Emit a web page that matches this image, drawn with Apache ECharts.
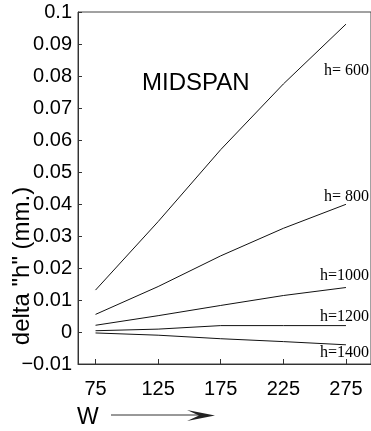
<!DOCTYPE html>
<html>
<head>
<meta charset="utf-8">
<title>MIDSPAN delta h</title>
<script src="https://cdn.jsdelivr.net/npm/echarts@6/dist/echarts.min.js"></script>
<style>
  html, body { margin: 0; padding: 0; background: #fff; }
  #chart { width: 371px; height: 431px; }
</style>
</head>
<body>
<div id="chart"></div>
<script>
// W values (x) and delta "h" (mm.) for each h
const widths = [75, 125, 175, 225, 275]
const seriesNames = ['h= 600', 'h= 800', 'h=1000', 'h=1200', 'h=1400']
const h600 = [0.0131, 0.0345, 0.0570, 0.0775, 0.0962]
const h800 = [0.0055, 0.0142, 0.0238, 0.0324, 0.0399]
const h1000 = [0.0021, 0.0051, 0.0083, 0.0114, 0.0139]
const h1200 = [0.0004, 0.0009, 0.0020, 0.0020, 0.0020]
const h1400 = [-0.0003, -0.0010, -0.0021, -0.0030, -0.0040]

const xTicks = [75, 125, 175, 225, 275]
const xTickLabels = ['75', '125', '175', '225', '275']
const yTicks = [-0.01, 0, 0.01, 0.02, 0.03, 0.04, 0.05, 0.06, 0.07, 0.08, 0.09, 0.1]
const yTickLabels = ['\u22120.01', '0', '0.01', '0.02', '0.03', '0.04', '0.05', '0.06', '0.07', '0.08', '0.09', '0.1']

const allValues = [h600, h800, h1000, h1200, h1400]
// label offset from line end (dy), h=600 and h=1400 sit below the line
const labelDy = [47, -8, -12, -9, 8]

const chart = echarts.init(document.getElementById('chart'))

const pick = (ticks, labels, v) => {
  const i = ticks.findIndex(t => Math.abs(t - v) < 1e-6)
  return i >= 0 ? labels[i] : ''
}

chart.setOption({
  animation: false,
  title: {
    text: 'MIDSPAN',
    left: 142,
    top: 71,
    padding: 0,
    textStyle: {
      fontFamily: 'Liberation Sans',
      fontSize: 24,
      fontWeight: 'normal',
      color: '#000'
    }
  },
  grid: {
    left: 78,
    right: -11,
    top: 12,
    bottom: 67,
    show: true,
    borderColor: '#444',
    borderWidth: 1
  },
  xAxis: {
    type: 'value',
    min: 61,
    max: 295,
    splitLine: { show: false },
    axisLine: { onZero: false, lineStyle: { color: '#333', width: 1 } },
    axisTick: {
      inside: true,
      length: 5,
      customValues: xTicks,
      lineStyle: { color: '#333' }
    },
    axisLabel: {
      customValues: xTicks,
      margin: 15,
      fontFamily: 'Liberation Sans',
      fontSize: 20,
      color: '#000',
      formatter: v => pick(xTicks, xTickLabels, v)
    }
  },
  yAxis: {
    type: 'value',
    min: -0.01,
    max: 0.1,
    interval: 0.01,
    splitLine: { show: false },
    axisLine: { show: true, onZero: false, lineStyle: { color: '#333', width: 1 } },
    axisTick: {
      show: true,
      inside: true,
      length: 4,
      lineStyle: { color: '#333' }
    },
    axisLabel: {
      margin: 6,
      fontFamily: 'Liberation Sans',
      fontSize: 20,
      color: '#000',
      formatter: v => pick(yTicks, yTickLabels, v)
    }
  },
  series: allValues.map((vals, k) => ({
    name: seriesNames[k],
    type: 'line',
    symbol: 'none',
    data: widths.map((w, i) => [w, vals[i]]),
    lineStyle: { color: '#111', width: 1 },
    endLabel: {
      show: true,
      formatter: seriesNames[k],
      distance: 0,
      align: 'right',
      verticalAlign: 'middle',
      offset: [23, labelDy[k]],
      fontFamily: 'Liberation Serif',
      fontSize: 16,
      color: '#000'
    }
  })),
  graphic: [
    {
      type: 'text',
      x: 22,
      y: 266,
      rotation: Math.PI / 2,
      style: {
        text: 'delta "h" (mm.)',
        font: '24px "Liberation Sans"',
        fill: '#000',
        align: 'center',
        verticalAlign: 'middle'
      }
    },
    {
      type: 'text',
      x: 77,
      y: 418,
      style: {
        text: 'W',
        font: '23px "Liberation Sans"',
        fill: '#000',
        align: 'left',
        verticalAlign: 'middle'
      }
    },
    {
      type: 'line',
      shape: { x1: 111, y1: 415, x2: 200, y2: 415 },
      style: { stroke: '#333', lineWidth: 1 }
    },
    {
      type: 'polygon',
      shape: { points: [[187, 410], [215, 415.5], [187, 421], [199, 415.5]] },
      style: { fill: '#222' }
    }
  ]
})
</script>
</body>
</html>
